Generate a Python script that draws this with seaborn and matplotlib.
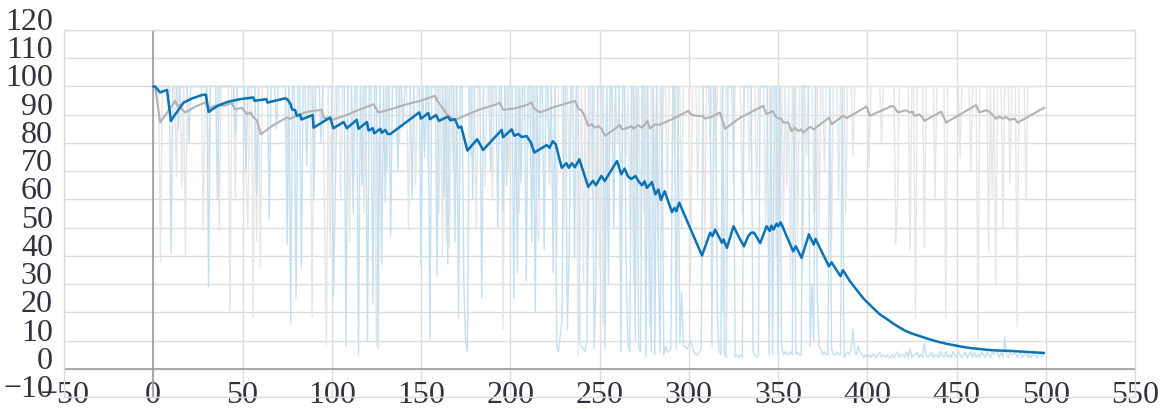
import matplotlib
matplotlib.use('Agg')
import matplotlib.pyplot as plt
import matplotlib.transforms as mtransforms
import seaborn as sns
import numpy as np

# ---- data ----
n_steps = 500

# light blue raw series: 100 everywhere except these steps
blue_low_x = [2, 10, 31, 46, 58, 65, 75, 77, 80, 83, 90, 101, 102, 108, 115, 120, 123, 126, 128, 130,
              133, 150, 155, 159, 163, 165, 169, 171, 174, 175, 176, 184, 196, 202, 204, 206, 209, 212,
              214, 219, 222, 224, 226, 227, 228, 229, 232, 233, 236, 239, 240, 241, 242, 243, 247, 248,
              253, 255, 258, 262, 265, 266, 267, 270, 272, 273, 276, 278, 279, 281, 283, 284, 286, 287,
              288, 289, 290, 293, 295, 296, 297, 298, 299, 300, 301, 302, 303, 304, 305, 306, 307, 313,
              316, 317, 318, 320, 321, 326, 327, 328, 329, 330, 336, 337, 338, 339, 345, 347, 350, 352,
              353, 354, 355, 356, 357, 358, 360, 361, 362, 363, 368, 369, 370, 372, 373, 374, 375, 376,
              377, 378, 380, 381, 382, 383, 384, 385, 387]
blue_low_y = [97, 41, 29, 83, 62, 53, 44, 16, 25, 36, 60, 26, 63, 8, 5, 10, 23, 7, 37, 59,
              47, 36, 10, 33, 61, 37, 45, 18, 30, 10, 6, 25, 55, 25, 34, 66, 31, 45,
              20, 42, 70, 34, 8, 6, 12, 17, 14, 40, 39, 9, 8, 7, 6, 10, 7, 30,
              7, 30, 50, 6, 33, 8, 6, 10, 7, 6, 4, 45, 6, 5, 35, 6, 5, 8,
              6, 6, 7, 7, 9, 27, 8, 8, 7, 8, 10, 8, 6, 5, 5, 6, 7, 8,
              20, 6, 5, 5, 4, 4, 5, 4, 5, 4, 6, 5, 4, 5, 5, 5, 5, 8,
              5, 6, 5, 5, 6, 5, 5, 6, 5, 5, 8, 30, 10, 26, 8, 7, 5, 6,
              5, 5, 7, 5, 5, 6, 5, 5, 4]
# shorter blue dips in the first half
blue_dip_x = [14, 20, 36, 52, 69, 86, 94, 112, 117, 137, 140, 145, 152, 179, 189, 193, 198, 216]
blue_dip_y = [85, 80, 60, 70, 85, 72, 80, 55, 65, 70, 85, 60, 75, 60, 70, 50, 65, 60]
blue_tail_start = 388
blue_tail = [5, 6, 5, 7, 14, 6, 5, 8, 6, 5, 4, 5, 4, 5, 4, 5,
             5, 4, 5, 6, 4, 5, 4, 5, 4, 4, 5, 4, 5, 6, 4, 5,
             5, 4, 6, 4, 7, 4, 5, 5, 6, 4, 5, 4, 9, 5, 4, 5,
             6, 4, 5, 5, 4, 6, 5, 4, 6, 4, 5, 4, 6, 5, 4, 6,
             5, 4, 5, 6, 4, 5, 6, 4, 6, 4, 5, 4, 6, 5, 4, 6,
             5, 4, 6, 5, 7, 5, 4, 6, 4, 11, 5, 4, 6, 5, 5, 6,
             4, 5, 6, 4, 5, 6, 4, 5, 4, 6, 5, 4, 5, 6, 4, 5]

# light gray raw series: 100 everywhere except these steps
gray_low_x = [4, 13, 16, 18, 28, 31, 37, 43, 46, 52, 53, 56, 58, 60, 75, 89, 96, 97, 99, 101,
              105, 110, 112, 118, 125, 126, 131, 138, 143, 147, 154, 160, 162, 164, 166, 168, 178,
              181, 186, 190, 196, 199, 205, 213, 215, 216, 222, 226, 230, 233, 238, 239, 241, 243,
              244, 246, 248, 250, 252, 253, 255, 258, 260, 262, 265, 267, 269, 271, 273, 275, 277,
              278, 281, 283, 285, 288, 292, 296, 301, 305, 309, 312, 315, 319, 320, 325, 330, 334,
              338, 343, 346, 349, 351, 353, 355, 357, 359, 361, 364, 366, 370, 373, 376, 380, 384,
              388, 392, 401, 408, 416, 417, 424, 427, 432, 438, 444, 452, 458, 462, 468, 470, 472,
              476, 480, 484, 489]
gray_low_y = [38, 68, 64, 40, 49, 70, 49, 20, 60, 68, 50, 18, 45, 36, 75, 18, 55, 8, 40, 70,
              60, 45, 75, 55, 8, 60, 70, 80, 50, 65, 70, 55, 40, 45, 43, 70, 75,
              50, 65, 60, 14, 70, 55, 60, 50, 45, 65, 40, 50, 70, 5, 40, 30, 20,
              50, 60, 40, 35, 15, 45, 70, 55, 80, 25, 75, 50, 30, 60, 40, 55, 70,
              15, 65, 45, 75, 60, 75, 50, 30, 60, 45, 80, 70, 20, 30, 65, 55, 70,
              60, 50, 75, 40, 60, 50, 65, 30, 70, 45, 35, 75, 55, 50, 70, 45, 60,
              55, 75, 71, 80, 44, 60, 42, 18, 43, 60, 18, 75, 70, 10, 41, 60, 30,
              50, 66, 15, 60]

# smoothed blue line
blue_sx = [0, 1, 3.9, 7.7, 9.9, 12.5, 17, 22, 27.5, 29.5, 31, 36.5, 42, 48.7, 56, 56.8, 63.3, 64,
           73.9, 75, 77, 77.7, 79.5, 80.4, 82.3, 83, 89.3, 89.8, 99.1, 100.9, 106.7, 108.5, 114,
           115, 119.7, 120.6, 123, 123.8, 127.2, 128, 130, 131.3, 132.7, 149, 150, 154.1, 155,
           158.5, 160, 165, 166.5, 169, 171, 172.5, 176, 181.5, 184.8, 195.2, 196, 200.8, 202.3,
           204.5, 206.3, 209.2, 211.5, 213.5, 220.4, 222, 223.8, 225.5, 228.8, 231.5, 232.8,
           234.5, 236.2, 238.7, 243.7, 246.3, 248, 251, 252.9, 259.8, 262.2, 264.1, 266, 267.8,
           270.1, 272, 273.8, 275.2, 276.6, 277.9, 279.4, 281.3, 283, 284.4, 286.5, 290.6, 292,
           293, 294.7, 307.4, 312, 313.3, 314.8, 318.6, 319.5, 321.4, 325.1, 327.8, 330.9, 333.3,
           335, 336.6, 340, 343.6, 345.4, 346.3, 347.5, 349.2, 350.1, 351.5, 358.5, 360, 363.2,
           367.3, 370, 371, 378.5, 380, 385, 386.4, 390, 394, 398, 403.3, 407, 411.5, 415, 420.8,
           425, 430.2, 435, 439.5, 444, 448.9, 453, 458.2, 463, 467.5, 472, 476.8, 481, 486.2,
           491, 499]
blue_sy = [100, 100, 97.9, 98.8, 87.8, 90.3, 94.3, 95.8, 97, 97.1, 91, 93.3, 94.6, 95.5, 96.1, 94.9, 95.5, 94.3,
           95.8, 95.5, 93.7, 91.9, 91.6, 89.6, 90, 88.3, 89.9, 85.4, 89, 85.2, 87.4, 85.2, 88.2,
           85, 87.4, 84.4, 85.2, 83.4, 85, 83.6, 84.6, 83.2, 83.1, 90.8, 88.6, 90.6, 88.4,
           89.9, 87.8, 89.3, 88, 88.4, 85.4, 85.8, 77.3, 81.3, 77.5, 84.6, 82, 84.8, 82.5,
           83.2, 82.1, 82.4, 80.2, 76.6, 79.2, 78.3, 80.6, 79.5, 71.2, 72.8, 71.2,
           72.8, 71.4, 74.2, 64.4, 66.6, 65, 68.3, 66.5, 73.6, 68.9, 70.9, 68.1, 67.2,
           68.3, 66.3, 65, 66.4, 64.1, 65, 66.1, 61.8, 63.5, 59.8, 62.9, 55.5, 57,
           55.8, 58.8, 40.1, 48.2, 47, 49.3, 44.6, 45.8, 42.8, 50.5, 47, 43.4, 47,
           48.2, 48.2, 44.5, 50.5, 48.8, 50.7, 49.3, 51.4, 50.5, 51.9, 41.6, 43.4, 39.3,
           47.6, 44, 46, 36.3, 37.7, 32.8, 34.9, 31.3, 28, 24.8, 21.5, 19.3, 17.4, 15.8, 13.6,
           12.5, 11.4, 10.4, 9.6, 8.9, 8.3, 7.8, 7.3, 7, 6.7, 6.5, 6.4, 6.3, 6.1,
           5.9, 5.6]

# smoothed gray line
gray_sx = [0, 1, 3.9, 8.4, 12.3, 13.5, 15, 16, 17.9, 24, 29.1, 31, 35, 40, 44, 45.9, 49.5, 52.5,
           54.5, 56.2, 58, 60.3, 67, 74.8, 76.5, 79, 85.1, 88, 94.4, 95.4, 101, 108, 115.9, 123.4,
           126.2, 135, 142, 149.5, 157.9, 159, 161, 164.4, 168.1, 170, 175, 183.1, 192.4, 194,
           196.1, 203, 209, 212, 213, 216.7, 225, 236.3, 238, 240, 241.5, 243.7, 245.5, 247.5,
           249.5, 251.3, 253.1, 257, 261.5, 262.5, 266.2, 268, 269, 271.7, 273.5, 275.5, 276.8,
           278.3, 281, 283, 290, 299.7, 301.6, 304.4, 308, 309, 313, 317.5, 319.3, 320.3, 329,
           341.7, 343.5, 347, 349.2, 352, 353, 355.8, 357.6, 359.5, 361.3, 363, 364.1, 368, 370,
           378.7, 380, 386.5, 388.5, 399.6, 401.4, 413.8, 415, 417.1, 421.8, 423.6, 425.5, 426.4,
           429.2, 431, 432, 441.4, 444.2, 461, 462.8, 466.6, 468.5, 472.2, 474, 475.9, 477.8,
           479.6, 482.5, 484.3, 499.2]
gray_sy = [100, 100, 87.2, 91.3, 94.9, 93, 93.5, 91.9, 90.8, 93, 94.3, 92.2, 93.3, 93.2, 94.1, 91.9, 92.5, 90.2,
           90.8, 89, 88, 83.1, 86.2, 89, 88.5, 89.3, 90.8, 91.2, 91.7, 89, 88.3, 89.8, 91.9, 93.7,
           90.8, 92.3, 93.7, 94.9, 96.7, 95, 93.3, 90.2, 88.4, 88.4, 89.8, 91.9, 93.7, 94.3,
           91.7, 92.3, 93.4, 94.3, 92.5, 90.8, 92.8, 94.9, 92.2, 91.5, 89.8, 86, 86.6, 85.4,
           86, 84.8, 82.5, 84.3, 86.3, 84.8, 85.4, 86, 85, 86.3, 85.4, 86.6, 87.8,
           85.1, 86.6, 86.3, 88.2, 91.3, 90, 89.6, 89.5, 88.6, 89.3, 90.8, 87.2, 85, 89,
           93.1, 90.3, 91.3, 89, 88.4, 87.2, 87.2, 84.2, 85.4, 84.2, 84.8, 83.7, 85.7, 84.8,
           89, 86.6, 89.6, 88.8, 92.9, 89.6, 93.1, 92.8, 90.8, 91.6, 90.8, 91, 89.6,
           90.1, 89, 87.8, 91.1, 87.2, 93.4, 90.8, 91.6, 91, 88.6, 89.3, 88.6, 89.2,
           88.2, 88.6, 87.2, 92.5]

x_ticks = list(range(-50, 551, 50))
y_ticks = list(range(-10, 121, 10))

# ---- build raw series ----
steps = np.arange(n_steps)
blue_raw = np.full(n_steps, 100.0)
blue_raw[blue_low_x] = blue_low_y
blue_raw[blue_dip_x] = blue_dip_y
blue_raw[blue_tail_start:blue_tail_start + len(blue_tail)] = blue_tail
gray_raw = np.full(n_steps, 100.0)
gray_raw[gray_low_x] = gray_low_y

# ---- plot ----
sns.set_style('white')
plt.rcParams['font.family'] = ['Liberation Serif', 'DejaVu Serif']

fig, ax = plt.subplots(figsize=(11.7, 4.1), dpi=100)
fig.subplots_adjust(left=64 / 1170, right=1135 / 1170, top=1 - 31 / 410, bottom=1 - 398 / 410)

sns.lineplot(x=steps, y=gray_raw, color='#e6e6e6', lw=1, ax=ax)
sns.lineplot(x=steps, y=blue_raw, color='#c4dff1', lw=1, ax=ax)
sns.lineplot(x=gray_sx, y=gray_sy, color='#b2b2b2', lw=1.5, sort=False, estimator=None, ax=ax)
sns.lineplot(x=blue_sx, y=blue_sy, color='#0a72b7', lw=1.8, sort=False, estimator=None, ax=ax)

ax.set_xlim(-50, 550)
ax.set_ylim(-10, 120)
ax.set_xticks(x_ticks)
ax.set_yticks(y_ticks)
ax.set_xlabel('')
ax.set_ylabel('')
ax.grid(True, color='#dcdcdc', lw=1)
ax.set_axisbelow(True)
ax.axhline(0, color='#9c9c9c', lw=1.2, zorder=1)
ax.axvline(0, color='#9c9c9c', lw=1.2, zorder=1)
for sp in ax.spines.values():
    sp.set_color('#dcdcdc')
    sp.set_linewidth(1)

ax.tick_params(length=0, labelsize=23, colors='#33333f', pad=8)

# labels sit a bit higher than their grid lines, as in the reference
for t in ax.yaxis.get_major_ticks():
    t.label1.set_transform(t.label1.get_transform()
                           + mtransforms.ScaledTranslation(0, 12 / 100, fig.dpi_scale_trans))
for t in ax.xaxis.get_major_ticks():
    t.label1.set_transform(t.label1.get_transform()
                           + mtransforms.ScaledTranslation(0, 28 / 100, fig.dpi_scale_trans))

fig.savefig('out.png', dpi=100)
